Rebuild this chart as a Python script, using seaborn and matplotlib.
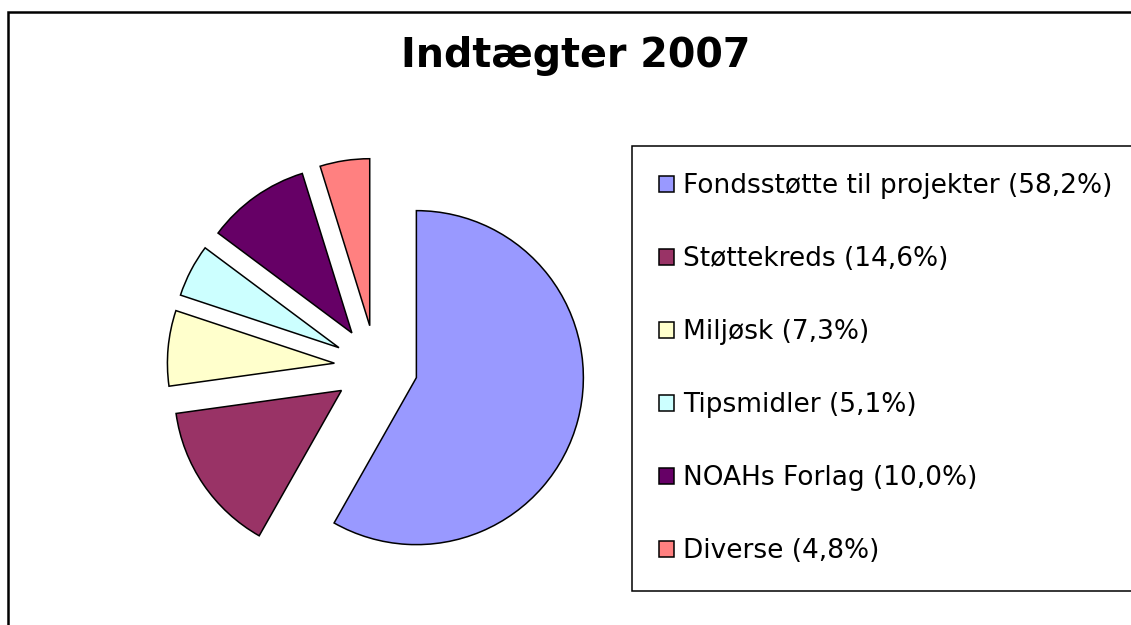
import matplotlib
matplotlib.use("Agg")
import matplotlib.pyplot as plt
import seaborn as sns
from matplotlib.patches import Rectangle

# data
categories = ["Fondsstøtte til projekter", "Støttekreds", "Miljøsk",
              "Tipsmidler", "NOAHs Forlag", "Diverse"]
shares = [58.2, 14.6, 7.3, 5.1, 10.0, 4.8]
colors = ["#9999FF", "#993366", "#FFFFCC", "#CCFFFF", "#660066", "#FF8080"]
title = "Indtægter 2007"

labels = [f"{c} ({str(v).replace('.', ',')}%)" for c, v in zip(categories, shares)]

sns.set_theme(style="white")
plt.rcParams['font.family'] = ['DejaVu Sans']
plt.rcParams['text.color'] = 'black'

W, H = 1131, 625
fig = plt.figure(figsize=(W / 100, H / 100), dpi=100)
fig.patch.set_facecolor("white")

# pie axes, 1 data unit = radius in px
R = 167
cx, cy = 376, 367
ax = fig.add_axes([0, 0, 1, 1])
wedges, _ = ax.pie(shares, colors=colors, startangle=90, counterclock=False,
                   explode=[0.25] * len(shares),
                   wedgeprops=dict(edgecolor="black", linewidth=1.1))
ax.set_aspect("auto")
ax.set_xlim(-cx / R, (W - cx) / R)
ax.set_ylim(-(H - cy) / R, cy / R)
ax.axis("off")

fig.text(576 / W, 1 - 67 / H, title, ha="center", va="baseline",
         fontsize=28.5, fontweight="bold", color="black")

leg = ax.legend(wedges, labels, loc="upper left",
                bbox_to_anchor=(632 / W, 1 - 146 / H, 0.6, 0),
                bbox_transform=fig.transFigure, mode="expand",
                borderaxespad=0, fontsize=19, frameon=True, fancybox=False,
                framealpha=1, edgecolor="black",
                handlelength=0.57, handleheight=0.57, handletextpad=0.34,
                labelspacing=1.78, borderpad=1.03)
frame = leg.get_frame()
frame.set_linewidth(1.1)
for t in leg.get_texts():
    t.set_color("black")
for h in leg.legend_handles:
    h.set_linewidth(1.1)

# outer chart border (cropped on right and bottom)
fig.patches.append(Rectangle((8 / W, -0.05), 1.1, 1 - 12 / H + 0.05,
                             transform=fig.transFigure, fill=False,
                             edgecolor="black", linewidth=1.8))

fig.savefig("out.png", dpi=100)
